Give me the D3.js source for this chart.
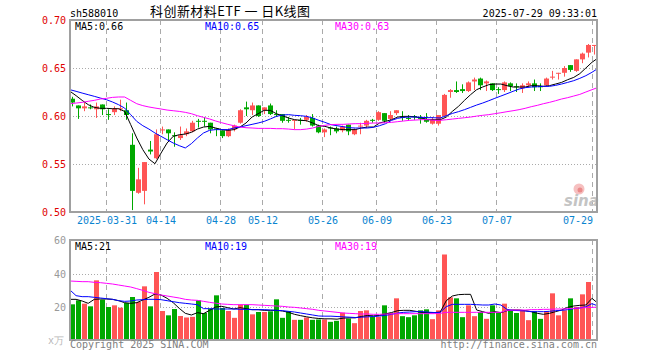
<!DOCTYPE html>
<html>
<head>
<meta charset="utf-8">
<script src="https://cdn.jsdelivr.net/npm/d3@7"></script>
<style>
body { margin: 0; background: #fff; }
text { font-family: "DejaVu Sans Mono", monospace; font-size: 10px; }
</style>
</head>
<body>
<div id="myChart"></div>
<script>
const days = ["2025-03-21","2025-03-24","2025-03-25","2025-03-26","2025-03-27","2025-03-28","2025-03-31","2025-04-01","2025-04-02","2025-04-03",
  "2025-04-07","2025-04-08","2025-04-09","2025-04-10","2025-04-11","2025-04-14","2025-04-15","2025-04-16","2025-04-17","2025-04-18",
  "2025-04-21","2025-04-22","2025-04-23","2025-04-24","2025-04-25","2025-04-28","2025-04-29","2025-04-30","2025-05-06","2025-05-07",
  "2025-05-08","2025-05-09","2025-05-12","2025-05-13","2025-05-14","2025-05-15","2025-05-16","2025-05-19","2025-05-20","2025-05-21",
  "2025-05-22","2025-05-23","2025-05-26","2025-05-27","2025-05-28","2025-05-29","2025-05-30","2025-06-03","2025-06-04","2025-06-05",
  "2025-06-06","2025-06-09","2025-06-10","2025-06-11","2025-06-12","2025-06-13","2025-06-16","2025-06-17","2025-06-18","2025-06-19",
  "2025-06-20","2025-06-23","2025-06-24","2025-06-25","2025-06-26","2025-06-27","2025-06-30","2025-07-01","2025-07-02","2025-07-03",
  "2025-07-04","2025-07-07","2025-07-08","2025-07-09","2025-07-10","2025-07-11","2025-07-14","2025-07-15","2025-07-16","2025-07-17",
  "2025-07-18","2025-07-21","2025-07-22","2025-07-23","2025-07-24","2025-07-25","2025-07-28","2025-07-29"];

const open = [0.618,0.611,0.608,0.609,0.607,0.612,0.602,0.604,0.607,0.606,
  0.570,0.520,0.522,0.565,0.556,0.585,0.586,0.580,0.577,0.581,
  0.584,0.595,0.595,0.593,0.587,0.585,0.579,0.586,0.593,0.609,
  0.606,0.611,0.606,0.611,0.602,0.602,0.596,0.595,0.596,0.596,
  0.598,0.590,0.583,0.588,0.587,0.585,0.591,0.581,0.589,0.590,
  0.596,0.596,0.603,0.597,0.603,0.599,0.598,0.600,0.599,0.597,
  0.592,0.592,0.600,0.625,0.627,0.628,0.626,0.636,0.639,0.634,
  0.634,0.628,0.627,0.634,0.631,0.629,0.632,0.634,0.631,0.632,
  0.640,0.644,0.645,0.653,0.647,0.659,0.666,0.673];
const high = [0.620,0.611,0.614,0.612,0.614,0.612,0.607,0.610,0.617,0.614,
  0.582,0.546,0.552,0.574,0.586,0.589,0.586,0.583,0.589,0.587,
  0.595,0.597,0.599,0.593,0.587,0.585,0.587,0.591,0.607,0.615,
  0.614,0.611,0.609,0.613,0.606,0.602,0.599,0.596,0.598,0.601,
  0.602,0.591,0.587,0.589,0.589,0.590,0.591,0.587,0.593,0.596,
  0.597,0.605,0.603,0.605,0.606,0.605,0.601,0.601,0.601,0.603,
  0.599,0.601,0.623,0.628,0.636,0.633,0.636,0.640,0.640,0.637,
  0.634,0.630,0.636,0.635,0.634,0.634,0.636,0.638,0.634,0.640,
  0.647,0.645,0.652,0.653,0.659,0.666,0.675,0.674];
const low = [0.610,0.597,0.605,0.607,0.598,0.601,0.596,0.601,0.605,0.596,
  0.502,0.519,0.508,0.560,0.555,0.581,0.575,0.568,0.575,0.579,
  0.583,0.588,0.589,0.582,0.579,0.577,0.578,0.584,0.592,0.600,
  0.601,0.599,0.602,0.601,0.599,0.593,0.593,0.586,0.591,0.594,
  0.589,0.582,0.578,0.580,0.582,0.583,0.580,0.580,0.581,0.588,
  0.593,0.595,0.593,0.595,0.601,0.595,0.595,0.596,0.592,0.593,
  0.591,0.590,0.600,0.619,0.624,0.624,0.625,0.627,0.627,0.626,
  0.626,0.623,0.625,0.626,0.625,0.624,0.630,0.626,0.626,0.631,
  0.638,0.638,0.641,0.646,0.646,0.655,0.661,0.664];
const close = [0.614,0.608,0.610,0.608,0.610,0.607,0.601,0.608,0.608,0.601,
  0.522,0.534,0.552,0.563,0.581,0.586,0.582,0.579,0.580,0.584,
  0.593,0.594,0.594,0.586,0.586,0.579,0.586,0.590,0.606,0.607,
  0.611,0.600,0.609,0.602,0.601,0.595,0.595,0.596,0.595,0.599,
  0.590,0.583,0.586,0.587,0.584,0.589,0.584,0.586,0.590,0.595,
  0.595,0.604,0.595,0.601,0.606,0.598,0.597,0.599,0.597,0.594,
  0.596,0.601,0.622,0.627,0.625,0.626,0.635,0.638,0.632,0.636,
  0.627,0.627,0.635,0.631,0.630,0.632,0.634,0.630,0.630,0.639,
  0.641,0.645,0.650,0.648,0.659,0.665,0.674,0.674];

const ma5 = [0.6257,0.6212,0.6163,0.6118,0.6090,0.6080,0.6080,0.6076,0.6076,0.6048,
  0.5910,0.5771,0.5649,0.5552,0.5503,0.5614,0.5719,0.5788,0.5805,0.5812,
  0.5830,0.5864,0.5885,0.5892,0.5875,0.5858,0.5851,0.5858,0.5885,0.5927,
  0.5989,0.6024,0.6059,0.6059,0.6024,0.6003,0.5979,0.5962,0.5955,0.5951,
  0.5927,0.5899,0.5892,0.5875,0.5864,0.5858,0.5858,0.5858,0.5875,0.5885,
  0.5885,0.5927,0.5944,0.5962,0.5989,0.5996,0.5996,0.5989,0.5979,0.5962,
  0.5961,0.5961,0.5989,0.6048,0.6100,0.6163,0.6222,0.6274,0.6302,0.6326,
  0.6333,0.6333,0.6316,0.6302,0.6302,0.6302,0.6316,0.6316,0.6309,0.6316,
  0.6333,0.6350,0.6378,0.6402,0.6441,0.6500,0.6559,0.6604];
const ma10 = [0.6274,0.6257,0.6239,0.6222,0.6205,0.6187,0.6170,0.6146,0.6118,0.6083,
  0.6014,0.5944,0.5899,0.5864,0.5823,0.5788,0.5753,0.5719,0.5691,0.5667,
  0.5712,0.5771,0.5823,0.5851,0.5858,0.5858,0.5858,0.5875,0.5885,0.5899,
  0.5913,0.5927,0.5944,0.5969,0.5996,0.6010,0.6014,0.6007,0.6003,0.5996,
  0.5979,0.5955,0.5934,0.5910,0.5899,0.5889,0.5878,0.5875,0.5875,0.5875,
  0.5882,0.5899,0.5920,0.5955,0.5976,0.5986,0.5989,0.5989,0.5986,0.5983,
  0.5982,0.5979,0.6003,0.6027,0.6045,0.6066,0.6090,0.6114,0.6135,0.6159,
  0.6184,0.6208,0.6232,0.6257,0.6281,0.6295,0.6302,0.6305,0.6309,0.6309,
  0.6319,0.6333,0.6350,0.6368,0.6392,0.6420,0.6455,0.6496];
const ma30 = [0.6128,0.6135,0.6142,0.6153,0.6163,0.6177,0.6184,0.6194,0.6198,0.6198,
  0.6163,0.6128,0.6108,0.6094,0.6083,0.6073,0.6062,0.6055,0.6048,0.6038,
  0.6024,0.6003,0.5986,0.5969,0.5948,0.5930,0.5913,0.5899,0.5885,0.5878,
  0.5875,0.5871,0.5871,0.5871,0.5868,0.5868,0.5864,0.5858,0.5858,0.5864,
  0.5875,0.5892,0.5903,0.5910,0.5913,0.5913,0.5917,0.5920,0.5920,0.5924,
  0.5927,0.5927,0.5930,0.5934,0.5941,0.5948,0.5955,0.5958,0.5962,0.5962,
  0.5955,0.5955,0.5961,0.5968,0.5975,0.5982,0.5989,0.5999,0.6007,0.6014,
  0.6024,0.6034,0.6045,0.6055,0.6066,0.6080,0.6097,0.6111,0.6128,0.6142,
  0.6159,0.6177,0.6191,0.6208,0.6225,0.6250,0.6274,0.6298];

// volume, in 万
const vol = [21.7,24.1,22.1,20.5,36.1,24.5,20.1,21.1,19.7,22.5,
  26.1,23.1,32.5,20.5,41.1,17.7,15.1,18.9,14.7,13.8,
  14.2,24.1,16.5,19.1,27.1,19.5,17.7,13.6,21.5,21.5,
  15.7,17.1,17.1,17.5,24.7,13.6,17.7,12.4,12.4,13.8,
  12.4,12.6,12.6,11.2,11.8,16.7,13.2,10.4,17.7,18.1,
  14.2,14.2,21.1,16.5,25.3,14.6,14.0,15.1,18.1,18.7,
  12.8,18.1,51.6,25.9,25.3,14.0,21.1,14.6,17.1,13.0,
  21.1,16.7,22.1,17.7,16.5,18.1,12.2,17.5,13.0,17.5,
  28.3,15.1,18.1,25.3,20.1,27.7,35.1,0.8];
const vma5 = [24.7,24.7,23.7,22.3,24.7,24.9,24.9,24.7,23.9,22.7,
  22.3,22.7,24.3,25.9,27.9,27.3,25.3,22.7,19.3,16.3,
  15.3,16.7,16.1,18.1,20.1,20.5,19.7,18.9,19.7,19.1,
  18.5,18.5,18.1,18.1,18.1,17.7,16.9,15.7,14.9,14.2,
  13.6,13.2,13.0,13.0,12.8,13.4,13.6,13.6,14.4,15.0,
  14.8,15.0,16.0,16.8,17.9,18.1,18.1,17.5,16.9,16.7,
  16.7,17.0,23.9,26.7,27.5,27.7,27.7,18.3,17.3,16.3,
  17.3,16.7,17.9,18.3,18.3,17.9,17.3,16.3,15.7,16.3,
  17.3,18.3,19.9,20.7,21.1,21.3,25.3,22.3];
const vma10 = [30.3,26.9,26.3,26.3,25.9,25.5,25.1,24.7,23.9,23.5,
  23.7,24.3,24.5,24.7,24.7,24.5,23.9,23.3,22.7,22.3,
  21.9,21.5,19.1,19.1,18.9,18.9,18.9,18.9,18.7,18.7,
  18.5,18.5,18.5,18.3,18.1,17.9,17.5,17.1,16.5,15.9,
  15.3,14.7,14.6,14.6,14.4,14.2,14.0,13.8,14.0,14.2,
  14.4,14.7,15.1,15.7,16.5,16.9,17.1,17.3,17.3,17.0,
  16.8,16.9,20.3,21.7,21.7,21.7,21.7,21.5,21.3,21.3,
  21.9,21.3,18.7,18.1,17.9,17.7,17.3,17.3,17.3,17.5,
  17.9,18.1,18.5,19.1,19.5,20.3,22.1,20.7];
const vma30 = [35.7,35.5,35.3,35.3,34.9,34.7,34.3,33.9,33.3,32.7,
  32.1,31.1,30.1,28.9,28.1,27.3,26.7,26.1,25.5,24.7,
  24.3,24.1,23.5,22.9,22.4,21.9,21.7,21.5,21.5,21.5,
  21.5,21.3,21.1,20.9,20.7,20.5,20.1,19.9,19.5,19.1,
  18.7,18.1,17.7,17.3,16.9,16.5,16.3,16.1,15.9,15.9,
  15.7,15.7,15.9,15.9,16.1,16.1,16.1,16.1,16.1,16.1,
  16.1,16.3,16.9,16.9,16.9,16.9,16.9,16.9,16.9,16.9,
  16.9,16.9,18.1,18.3,18.3,18.3,18.5,18.5,18.7,18.7,
  18.9,18.9,19.1,19.3,19.5,19.7,19.9,20.0];

const priceTicks = [0.50, 0.55, 0.60, 0.65, 0.70];
const priceGrid = [0.55, 0.60, 0.65];
const volTicks = [20, 40, 60];
const volGrid = [20, 40];
const dateTicks = ["2025-03-31","2025-04-14","2025-04-28","2025-05-12","2025-05-26","2025-06-09","2025-06-23","2025-07-07","2025-07-29"];
const priceMaLabels = ["MA5:0.66", "MA10:0.65", "MA30:0.63"];
const volMaLabels = ["MA5:21", "MA10:19", "MA30:19"];
const maColors = ["#000000", "#0000ff", "#ff00ff"];

let svgW = 660;
let svgH = 360;
let svg = d3.select("#myChart").append("svg");
svg.attr("width", svgW);
svg.attr("height", svgH);

const red = "#ff5555";
const green = "#00a800";
const left = 70, right = 597;

let x = d3.scalePoint().domain(days).range([72, 594]);
// the average lines run edge to edge of the frame
let xl = d3.scalePoint().domain(days).range([70, 598]);
let y = d3.scaleLinear().domain([0.5, 0.7]).range([212, 20]);
let yv = d3.scaleLinear().domain([0, 60]).range([340.5, 240.5]);

const up = i => close[i] >= open[i];

// header
svg.append("text").attr("x", 70).attr("y", 16.5).text("sh588010");
svg.append("text").attr("x", 150).attr("y", 16)
  .style("font-family", "'Noto Sans CJK SC', sans-serif").style("font-size", "13px")
  .attr("textLength", 160).attr("lengthAdjust", "spacing")
  .text("科创新材料ETF 一 日K线图");
svg.append("text").attr("x", 597).attr("y", 16.5).attr("text-anchor", "end").text("2025-07-29 09:33:01");

// grids
svg.selectAll(".pgrid").data(priceGrid).enter().append("line")
  .attr("x1", left).attr("x2", right)
  .attr("y1", d => Math.round(y(d)) + 0.5).attr("y2", d => Math.round(y(d)) + 0.5)
  .style("stroke", "#aaa").style("stroke-dasharray", "1,2");
svg.selectAll(".vgrid").data(volGrid).enter().append("line")
  .attr("x1", left).attr("x2", right)
  .attr("y1", d => Math.round(yv(d)) + 0.5).attr("y2", d => Math.round(yv(d)) + 0.5)
  .style("stroke", "#aaa").style("stroke-dasharray", "1,2");
[[20, 212], [240, 340]].forEach(r => {
  svg.selectAll(null).data(dateTicks).enter().append("line")
    .attr("x1", d => Math.round(x(d)) - 1.5).attr("x2", d => Math.round(x(d)) - 1.5)
    .attr("y1", r[0]).attr("y2", r[1])
    .style("stroke", "#aaa").style("stroke-dasharray", "5,4");
});

// watermark
svg.append("circle").attr("cx", 579).attr("cy", 189).attr("r", 5.5).attr("fill", "#f6c0c0");
svg.append("circle").attr("cx", 580).attr("cy", 190).attr("r", 2.5).attr("fill", "#ea8a8a");
svg.append("text").attr("x", 564).attr("y", 206)
  .style("font-family", "'DejaVu Sans', sans-serif").style("font-size", "15px")
  .style("font-weight", "bold").style("font-style", "italic")
  .attr("fill", "#c4c4c4").text("sina");

// candles
let idx = d3.range(days.length);
svg.selectAll(".wick").data(idx).enter().append("line")
  .attr("x1", i => x(days[i]) + 0.5).attr("x2", i => x(days[i]) + 0.5)
  .attr("y1", i => y(high[i])).attr("y2", i => y(low[i]))
  .style("stroke", i => up(i) ? red : green);
svg.selectAll(".body").data(idx).enter().append("rect")
  .attr("x", i => x(days[i]) - 2)
  .attr("width", 5)
  .attr("y", i => y(Math.max(open[i], close[i])))
  .attr("height", i => Math.max(1, Math.abs(y(open[i]) - y(close[i]))))
  .attr("fill", i => up(i) ? red : green);

// volume bars
svg.selectAll(".vbar").data(idx).enter().append("rect")
  .attr("x", i => x(days[i]) - 2)
  .attr("width", 5)
  .attr("y", i => yv(vol[i]))
  .attr("height", i => yv(0) - yv(vol[i]))
  .attr("fill", i => up(i) ? red : green);

// moving averages
let pline = d3.line().x((d, i) => xl(days[i])).y(d => y(d));
let vline = d3.line().x((d, i) => xl(days[i])).y(d => yv(d));
[ma5, ma10, ma30].forEach((s, k) => {
  svg.append("path").attr("d", pline(s)).attr("fill", "none").style("stroke", maColors[k]).style("stroke-width", 1);
});
[vma5, vma10, vma30].forEach((s, k) => {
  svg.append("path").attr("d", vline(s)).attr("fill", "none").style("stroke", maColors[k]).style("stroke-width", 1);
});

// frames
svg.append("rect").attr("x", left).attr("y", 20).attr("width", right - left).attr("height", 192)
  .attr("fill", "none").style("stroke", "#a0a0a0").style("stroke-width", 2);
svg.append("rect").attr("x", left).attr("y", 240).attr("width", right - left).attr("height", 100)
  .attr("fill", "none").style("stroke", "#a0a0a0").style("stroke-width", 2);

// MA legends
const legX = [75, 205, 335];
priceMaLabels.forEach((t, k) => {
  svg.append("text").attr("x", legX[k]).attr("y", 29.5).attr("fill", maColors[k]).text(t);
});
volMaLabels.forEach((t, k) => {
  svg.append("text").attr("x", legX[k]).attr("y", 249.5).attr("fill", maColors[k]).text(t);
});

// axes
let ya = svg.append("g").attr("transform", "translate(" + (left - 1) + ",0)")
  .call(d3.axisLeft(y).tickValues(priceTicks).tickFormat(d3.format(".2f")).tickSize(0).tickPadding(3));
ya.select(".domain").remove();
ya.selectAll("text").attr("fill", "#e00000").style("font-family", "'DejaVu Sans Mono', monospace").style("font-size", "10px");

let va = svg.append("g").attr("transform", "translate(" + (left - 1) + ",0)")
  .call(d3.axisLeft(yv).tickValues(volTicks).tickSize(0).tickPadding(3));
va.select(".domain").remove();
va.selectAll("text").attr("fill", "#999").style("font-family", "'DejaVu Sans Mono', monospace").style("font-size", "10px");
svg.append("text").attr("x", 64).attr("y", 344).attr("text-anchor", "end").attr("fill", "#b8b8b8").text("x万");

let xa = svg.append("g").attr("transform", "translate(-1.5,212)")
  .call(d3.axisBottom(x).tickValues(dateTicks).tickFormat((d, i) => i === 0 ? d : d.slice(5)).tickSize(0).tickPadding(5));
xa.select(".domain").remove();
xa.selectAll("text").attr("fill", "#0a84d0").style("font-family", "'DejaVu Sans Mono', monospace").style("font-size", "10px");
xa.selectAll("text").filter((d, i) => i === dateTicks.length - 1).attr("text-anchor", "end");

// footer
svg.append("text").attr("x", 70).attr("y", 348).attr("fill", "#808080").text("Copyright 2025 SINA.COM");
svg.append("text").attr("x", 597).attr("y", 348).attr("text-anchor", "end").attr("fill", "#808080").text("http://finance.sina.com.cn");
</script>
</body>
</html>
